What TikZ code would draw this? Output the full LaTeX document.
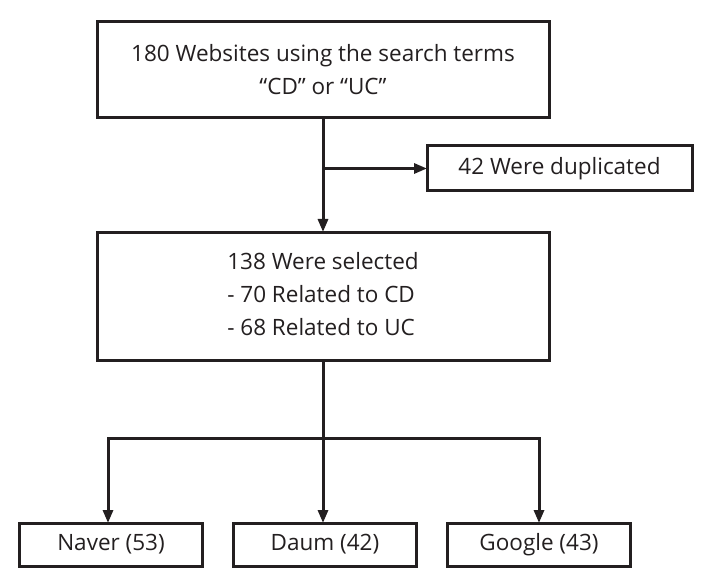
\documentclass[tikz,border=0pt]{standalone}
\usepackage{fontspec}
\setmainfont{Open Sans}
\usepackage{tikz}
\usetikzlibrary{arrows.meta,positioning,calc}
\definecolor{ink}{HTML}{231F20}
\tikzset{
    every picture/.style={line join=miter},
    stagebox/.style={draw=ink,line width=3pt,fill=white,
      inner sep=2pt,outer sep=0pt,text=ink,align=center,
      font=\fontsize{22.5}{33}\selectfont},
    sitebox/.style={stagebox,minimum width=183pt,minimum height=43pt},
    flowarrow/.style={-{Triangle[length=13pt,width=10pt]},draw=ink,
      line width=3pt}
}
\begin{document}
\begin{tikzpicture}[x=1pt,y=1pt]
  \useasboundingbox (0,0) rectangle (711,-569);
  \node[stagebox,minimum width=452pt,minimum height=96pt] (search) at (323,-70)
    {180 Websites using the search terms\\``CD'' or ``UC''};
  \node[stagebox,minimum width=265pt,minimum height=45pt] (dup) at (559.5,-168.5)
    {42 Were duplicated};
  \node[stagebox,minimum width=452pt,minimum height=128pt,below=114pt of search] (sel)
    {\begin{tabular}{@{}l@{}}138 Were selected\\- 70 Related to CD\\- 68 Related to UC\end{tabular}};
  \node[sitebox] (daum) at (325,-544.5) {Daum (42)};
  \node[sitebox,left=31pt of daum] (naver) {Naver (53)};
  \node[sitebox,right=31pt of daum] (google) {Google (43)};
  \coordinate (fork) at (search.south |- dup.west);
  \coordinate (bus) at ($(sel.south)+(0,-78)$);
  % top part
  \draw[flowarrow] (search.south) -- (sel.north);
  \draw[flowarrow] (fork) -- (dup.west);
  % split by portal
  \draw[flowarrow] (sel.south) -- (sel.south |- daum.north);
  \draw[flowarrow] (bus) -| ($(naver.north)+(-3,0)$);
  \draw[flowarrow] (bus) -| (google.north);
\end{tikzpicture}
\end{document}
